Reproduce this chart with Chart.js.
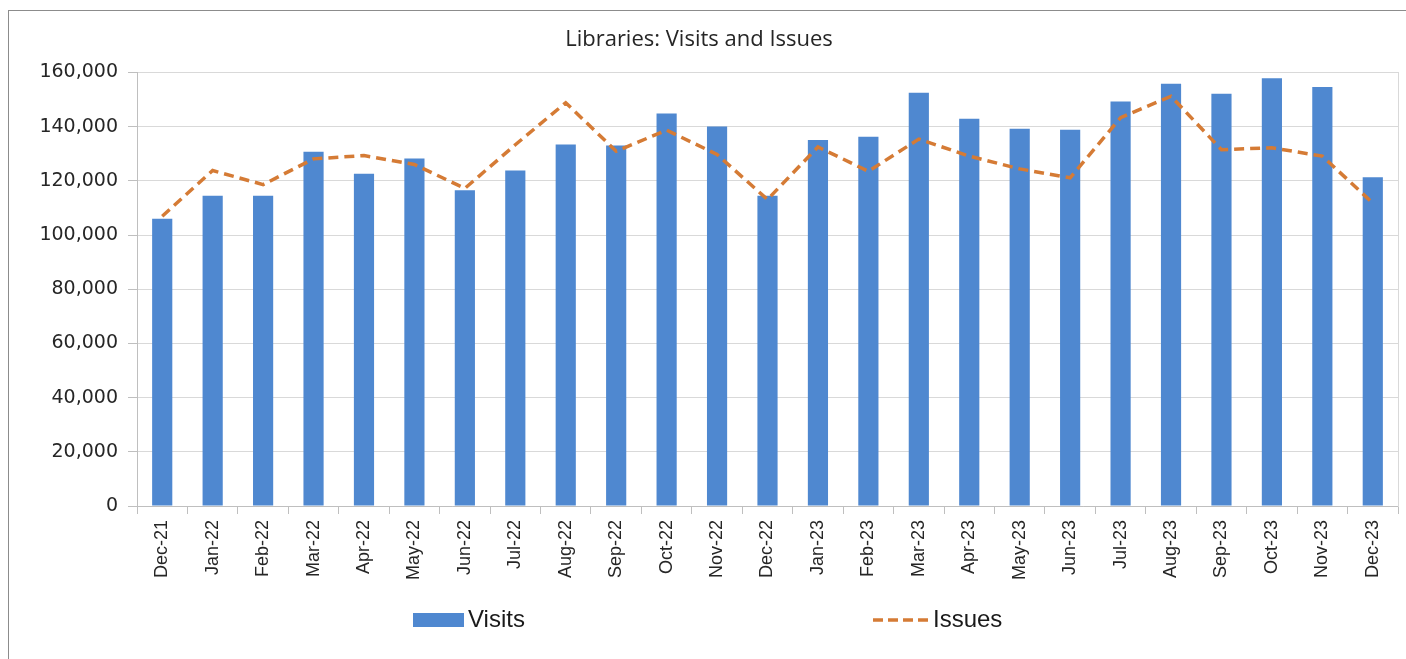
<!DOCTYPE html>
<html>
<head>
<meta charset="utf-8">
<script src="https://cdn.jsdelivr.net/npm/chart.js@4/dist/chart.umd.min.js"></script>
<style>
  html, body { margin: 0; padding: 0; background: #fff; overflow: hidden; }
  #frame { position: absolute; left: 8px; top: 10px; width: 1500px; height: 800px; border: 1px solid #8c8c8c; box-sizing: border-box; }
  #wrap { position: absolute; left: 0; top: 0; width: 1406px; height: 659px; }
</style>
</head>
<body>
<div id="frame"></div>
<div id="wrap"><canvas id="c" width="1406" height="659"></canvas></div>
<script>
const categories = ['Dec-21','Jan-22','Feb-22','Mar-22','Apr-22','May-22','Jun-22','Jul-22','Aug-22','Sep-22','Oct-22','Nov-22','Dec-22','Jan-23','Feb-23','Mar-23','Apr-23','May-23','Jun-23','Jul-23','Aug-23','Sep-23','Oct-23','Nov-23','Dec-23'];
const visits = [106000,114500,114500,130700,122600,128200,116500,123800,133400,133000,144800,140000,114500,135100,136300,152500,142900,139200,138800,149300,155800,152100,157800,154600,121300];
const issues = [106900,123800,118600,128100,129300,126000,117200,133300,148800,130900,138700,129700,113100,132500,123500,135400,129100,124400,121100,143300,151200,131500,132200,129100,111800];
const yTicks = [0,20000,40000,60000,80000,100000,120000,140000,160000];

const legendPlugin = {
  id: 'customLegend',
  afterDraw(chart, args, opts) {
    const ctx = chart.ctx;
    const ds = chart.data.datasets;
    const W = chart.width;
    ctx.save();
    ctx.font = opts.font;
    ctx.fillStyle = opts.color;
    ctx.textBaseline = 'middle';
    ctx.textAlign = 'left';
    const y = opts.y;
    const bx = W * opts.x1;
    ctx.fillStyle = ds[0].backgroundColor;
    ctx.fillRect(bx, y - 7, 51, 14);
    ctx.fillStyle = opts.color;
    ctx.fillText(ds[0].label, bx + 55, y);
    const lx = W * opts.x2;
    ctx.strokeStyle = ds[1].borderColor;
    ctx.lineWidth = 3.5;
    ctx.setLineDash([10, 5]);
    ctx.beginPath();
    ctx.moveTo(lx, y);
    ctx.lineTo(lx + 58, y);
    ctx.stroke();
    ctx.setLineDash([]);
    ctx.fillText(ds[1].label, lx + 60, y);
    ctx.restore();
  }
};

new Chart(document.getElementById('c'), {
  type: 'bar',
  data: {
    labels: categories,
    datasets: [
      {
        type: 'bar',
        label: 'Visits',
        data: visits,
        backgroundColor: '#4F88D0',
        barPercentage: 0.4,
        categoryPercentage: 1.0,
        order: 2
      },
      {
        type: 'line',
        label: 'Issues',
        data: issues,
        borderColor: '#D57B35',
        backgroundColor: '#D57B35',
        borderWidth: 3.5,
        borderDash: [10, 6],
        pointRadius: 0,
        tension: 0,
        fill: false,
        order: 1
      }
    ]
  },
  plugins: [legendPlugin],
  options: {
    responsive: false,
    animation: false,
    devicePixelRatio: 1,
    layout: { padding: { left: 0, right: 8, top: 0, bottom: 0 } },
    plugins: {
      legend: { display: false },
      tooltip: { enabled: false },
      title: {
        display: true,
        text: 'Libraries: Visits and Issues',
        color: '#262626',
        font: { family: 'Open Sans', size: 22, weight: 'normal' },
        padding: { top: 27, bottom: 19 }
      },
      customLegend: {
        font: '24px "Liberation Sans", Arial, sans-serif',
        color: '#1a1a1a',
        y: 620,
        x1: 413 / 1406,
        x2: 873 / 1406
      }
    },
    scales: {
      x: {
        type: 'category',
        offset: true,
        grid: {
          offset: true,
          drawOnChartArea: false,
          drawTicks: true,
          tickLength: 8,
          color: '#bfbfbf'
        },
        border: { display: true, color: '#bfbfbf', width: 1 },
        ticks: {
          color: '#262626',
          font: { family: 'Liberation Sans', size: 18 },
          minRotation: 90,
          maxRotation: 90,
          autoSkip: false,
          padding: 6
        },
        afterFit(scale) { scale.height = 153; }
      },
      y: {
        position: 'left',
        min: 0,
        max: 160000,
        afterBuildTicks(scale) { scale.ticks = yTicks.map(v => ({ value: v })); },
        grid: {
          color: '#d9d9d9',
          lineWidth: 1,
          drawTicks: true,
          tickLength: 9,
          tickColor: '#bfbfbf'
        },
        border: { display: true, color: '#bfbfbf', width: 1 },
        ticks: {
          color: '#262626',
          font: { family: 'DejaVu Sans', size: 19 },
          padding: 10,
          callback: (v) => Number(v).toLocaleString('en-US')
        },
        afterFit(scale) { scale.width = 137; }
      },
      y2: {
        position: 'right',
        min: 0,
        max: 160000,
        grid: { drawOnChartArea: false, drawTicks: false },
        border: { display: true, color: '#d9d9d9', width: 1 },
        ticks: { display: false },
        afterFit(scale) { scale.width = 0; }
      }
    }
  }
});
</script>
</body>
</html>
